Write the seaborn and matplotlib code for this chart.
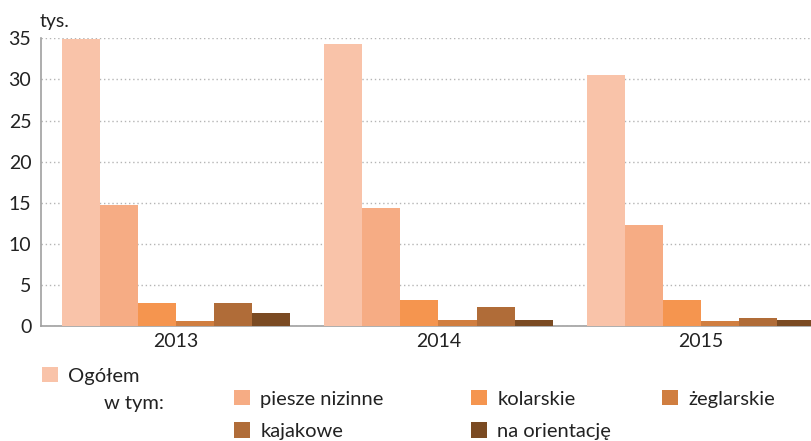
import pandas as pd
import seaborn as sns
import numpy as np
import matplotlib.pyplot as plt
from matplotlib.patches import Patch

# Data (thousands of participants)
years = ['2013', '2014', '2015']
kinds = ['Ogółem', 'piesze nizinne', 'kolarskie', 'żeglarskie', 'kajakowe', 'na orientację']
ogolem = [34.9, 34.3, 30.6]
piesze = [14.7, 14.4, 12.3]
kolarskie = [2.8, 3.2, 3.2]
zeglarskie = [0.6, 0.7, 0.6]
kajakowe = [2.8, 2.3, 1.0]
orientacja = [1.6, 0.7, 0.7]
colors = ['#F9C3A9', '#F6AC84', '#F5954F', '#D07E40', '#B06C38', '#7A4A22']

series = [ogolem, piesze, kolarskie, zeglarskie, kajakowe, orientacja]
df = pd.DataFrame({
    'rok': np.tile(years, len(kinds)),
    'rodzaj': np.repeat(kinds, len(years)),
    'tys': np.concatenate(series),
})

sns.set_style('white')
plt.rcParams['font.family'] = ['Lato', 'DejaVu Sans']
txt = '#222222'
fs = 14.5

fig = plt.figure(figsize=(8.12, 4.41), dpi=100)
ax = fig.add_axes([0.0505, 0.261, 0.9495, 0.652])

sns.barplot(data=df, x='rok', y='tys', hue='rodzaj', hue_order=kinds,
            palette=colors, width=0.87, gap=0, saturation=1, ax=ax,
            legend=False, zorder=3)
for p in ax.patches:
    p.set_edgecolor('none')

ax.set_ylim(0, 35)
ax.set_xlim(-0.514, 2.423)
ax.set_yticks(range(0, 36, 5))
ax.yaxis.grid(True, linestyle=(0, (1, 2)), color='#b5b5b5', linewidth=1, zorder=0)
ax.set_axisbelow(True)
ax.set_xlabel('')
ax.set_ylabel('')
ax.tick_params(axis='y', length=0, labelsize=14, colors=txt, pad=7)
ax.tick_params(axis='x', length=0, labelsize=14, colors=txt, pad=5)
for s in ['top', 'right']:
    ax.spines[s].set_visible(False)
for s in ['left', 'bottom']:
    ax.spines[s].set_color('#a0a0a0')
    ax.spines[s].set_linewidth(1.2)

fig.text(0.049, 0.951, 'tys.', fontsize=14, color=txt, va='center')


def column_legend(idx, x_px, y_px):
    hs = [Patch(facecolor=colors[i], edgecolor='none') for i in idx]
    leg = fig.legend(hs, [kinds[i] for i in idx], loc='upper left',
                     bbox_to_anchor=(x_px / 812, 1 - y_px / 441),
                     frameon=False, fontsize=fs, handlelength=0.8, handleheight=0.8,
                     handletextpad=0.5, labelspacing=0.72, borderpad=0,
                     borderaxespad=0)
    for t in leg.get_texts():
        t.set_color(txt)
    return leg


# Legend, laid out as in the original
column_legend([0], 42, 367)
fig.text(104 / 812, 1 - 403 / 441, 'w tym:', fontsize=fs, color=txt, va='center')
column_legend([1, 4], 234, 390)
column_legend([2, 5], 471, 390)
column_legend([3], 662, 390)

fig.savefig('out.png', dpi=100)
